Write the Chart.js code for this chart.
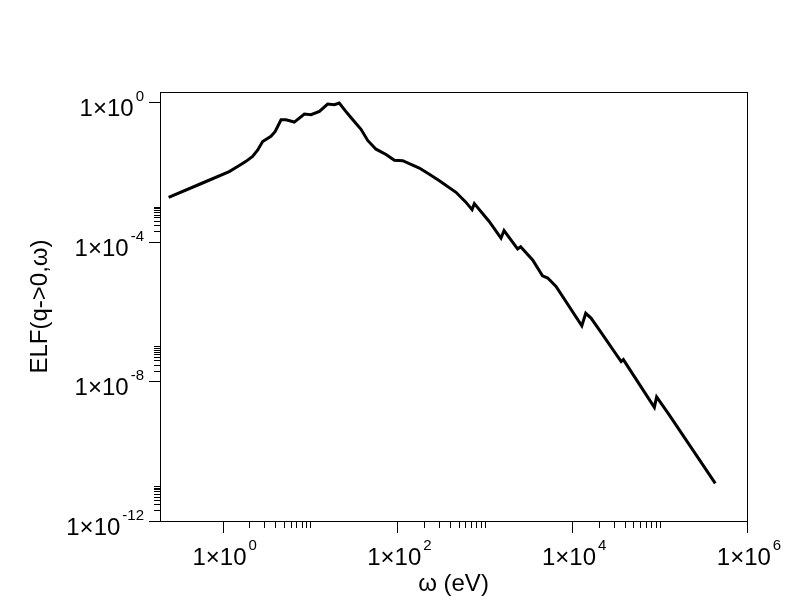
<!DOCTYPE html>
<html>
<head>
<meta charset="utf-8">
<script src="https://cdn.jsdelivr.net/npm/chart.js@4/dist/chart.umd.min.js"></script>
<style>
  html, body { margin: 0; padding: 0; background: #fff; }
  canvas { display: block; }
</style>
</head>
<body>
<canvas id="elf" width="792" height="612"></canvas>
<script>
// energy loss function
const omega = [0.241, 0.562, 1.19, 1.55, 1.85, 2.20, 2.51, 2.87, 3.57, 3.98, 4.66, 5.31, 6.61, 8.61, 10.26, 12.8,
  15.9, 19.0, 21.6, 26.3, 30.7, 38.3, 45.7, 56.9, 74.1, 92.3, 115, 178, 232, 302, 468, 603, 714, 759,
  1122, 1531, 1660, 2371, 2570, 3524, 4571, 5248, 6531, 12880, 14290, 16410, 20420, 36300, 38460,
  87100, 92470, 128800, 433500]
const elf = [1.85e-3, 4.57e-3, 1.02e-2, 1.52e-2, 2.0e-2, 2.75e-2, 4.17e-2, 7.4e-2, 0.104, 0.141, 0.311, 0.311,
  0.267, 0.453, 0.433, 0.537, 0.877, 0.838, 0.935, 0.50, 0.316, 0.166, 0.0794, 0.0447, 0.0316, 0.0214, 0.0209,
  0.0129, 8.5e-3, 5.6e-3, 2.6e-3, 1.38e-3, 8.3e-4, 1.23e-3, 3.8e-4, 1.26e-4, 2.09e-4, 6.2e-5, 7.2e-5, 3.0e-5,
  1.05e-5, 9.1e-6, 5.2e-6, 3.9e-7, 8.9e-7, 6.5e-7, 3.0e-7, 3.7e-8, 4.2e-8, 1.8e-9, 3.6e-9, 1.1e-9, 1.2e-11]

const xMajor = [1, 1e2, 1e4, 1e6]
const xExp = ['0', '2', '4', '6']
const yMajor = [1, 1e-4, 1e-8, 1e-12]
const yExp = ['0', '-4', '-8', '-12']
const minorMult = [2, 3, 4, 5, 6, 7, 8, 9, 10]

const FONT = '"Liberation Sans", Arial, Helvetica, sans-serif'

function drawPow(ctx, x, y, exp, align){
  // "1x10" with a raised exponent; align is where x sits: 'right' edge or 'center'
  ctx.font = `24px ${FONT}`
  const wMain = ctx.measureText('1\u00d710').width
  ctx.font = `15px ${FONT}`
  const wSup = ctx.measureText(exp).width
  const total = wMain + 2 + wSup
  const x0 = align === 'right' ? x - total : x - total / 2
  ctx.textAlign = 'left'
  ctx.textBaseline = 'alphabetic'
  ctx.font = `24px ${FONT}`
  ctx.fillText('1\u00d710', x0, y)
  ctx.font = `15px ${FONT}`
  ctx.fillText(exp, x0 + wMain + 2, y - 15)
}

const axesPlugin = {
  id: 'gnuAxes',
  afterDraw(chart){
    const {ctx, chartArea: a, scales: {x, y}} = chart
    ctx.save()
    ctx.strokeStyle = '#000'
    ctx.fillStyle = '#000'
    ctx.lineWidth = 1
    ctx.strokeRect(a.left + 0.5, a.top + 0.5, a.right - a.left, a.bottom - a.top)

    ctx.beginPath()
    xMajor.forEach((v, i) => {
      const px = Math.round(x.getPixelForValue(v)) + 0.5
      ctx.moveTo(px, a.bottom); ctx.lineTo(px, a.bottom + 12)
      if(i < xMajor.length - 1){
        minorMult.forEach(k => {
          const mx = Math.round(x.getPixelForValue(v * k)) + 0.5
          ctx.moveTo(mx, a.bottom); ctx.lineTo(mx, a.bottom + 7)
        })
      }
    })
    yMajor.forEach((v, i) => {
      const py = Math.round(y.getPixelForValue(v)) + 0.5
      ctx.moveTo(a.left, py); ctx.lineTo(a.left - 11, py)
      if(i > 0){
        minorMult.forEach(k => {
          const my = Math.round(y.getPixelForValue(v * k)) + 0.5
          ctx.moveTo(a.left, my); ctx.lineTo(a.left - 6, my)
        })
      }
    })
    ctx.stroke()

    xMajor.forEach((v, i) => {
      drawPow(ctx, x.getPixelForValue(v) + 2, a.bottom + 44, xExp[i], 'center')
    })
    yMajor.forEach((v, i) => {
      drawPow(ctx, a.left - 16, y.getPixelForValue(v) + 14, yExp[i], 'right')
    })

    ctx.font = `24px ${FONT}`
    ctx.textAlign = 'center'
    ctx.textBaseline = 'alphabetic'
    ctx.fillText('\u03c9 (eV)', (a.left + a.right) / 2, 591)
    ctx.translate(40, (a.top + a.bottom) / 2)
    ctx.rotate(-Math.PI / 2)
    ctx.textBaseline = 'middle'
    ctx.fillText('ELF(q->0,\u03c9)', 0, 0)
    ctx.restore()
  }
}

new Chart(document.getElementById('elf'), {
  type: 'line',
  data: {
    datasets: [{
      data: omega.map((w, i) => ({x: w, y: elf[i]})),
      borderColor: '#000',
      borderWidth: 3,
      pointRadius: 0,
      tension: 0,
      fill: false
    }]
  },
  options: {
    responsive: false,
    animation: false,
    layout: { padding: { left: 160, top: 92, right: 45, bottom: 91 } },
    plugins: { legend: {display: false}, tooltip: {enabled: false} },
    scales: {
      x: { type: 'logarithmic', min: 0.192, max: 1e6, display: false },
      y: { type: 'logarithmic', min: 1e-12, max: 1.94, display: false }
    }
  },
  plugins: [axesPlugin]
})
</script>
</body>
</html>
